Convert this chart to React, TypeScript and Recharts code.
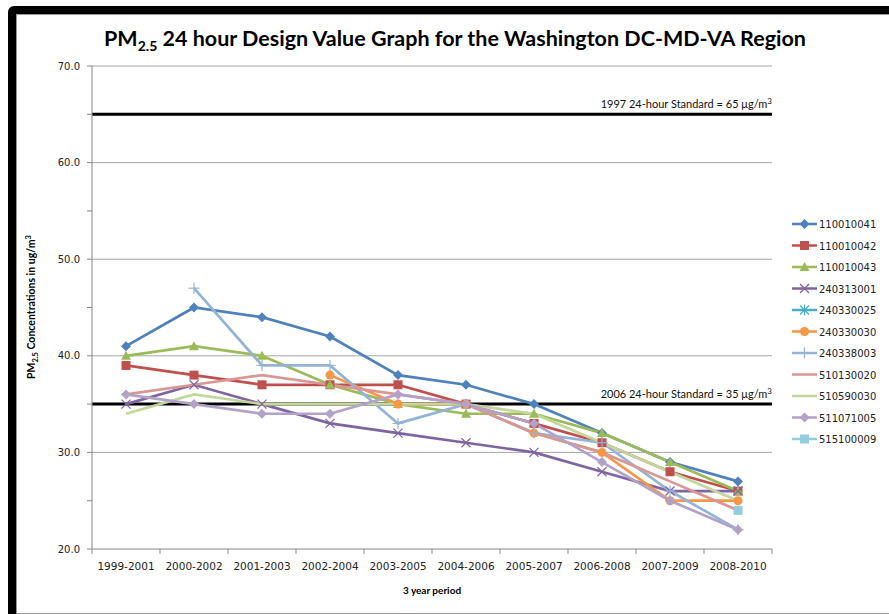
import React from 'react';
import { LineChart, Line, XAxis, YAxis, ReferenceLine } from 'recharts';

const categories = ['1999-2001', '2000-2002', '2001-2003', '2002-2004', '2003-2005', '2004-2006', '2005-2007', '2006-2008', '2007-2009', '2008-2010'];
const seriesNames = ['110010041', '110010042', '110010043', '240313001', '240330025', '240330030', '240338003', '510130020', '510590030', '511071005', '515100009'];
const s110010041 = [41, 45, 44, 42, 38, 37, 35, 32, 29, 27];
const s110010042 = [39, 38, 37, 37, 37, 35, 33, 31, 28, 26];
const s110010043 = [40, 41, 40, 37, 35, 34, 34, 32, 29, 26];
const s240313001 = [35, 37, 35, 33, 32, 31, 30, 28, 26, 26];
const s240330025 = [null, null, null, null, null, null, null, null, null, null];
const s240330030 = [null, null, null, 38, 35, 35, 32, 30, 25, 25];
const s240338003 = [null, 47, 39, 39, 33, 35, 32, 31, 26, 22];
const s510130020 = [36, 37, 38, 37, 36, 35, 32, 30, 27, 24];
const s510590030 = [34, 36, 35, 35, 35, 35, 34, 31, 28, 25];
const s511071005 = [36, 35, 34, 34, 36, 35, 33, 29, 25, 22];
const s515100009 = [null, null, null, null, null, null, null, null, null, 24];
const yTicks = [20, 25, 30, 35, 40, 45, 50, 55, 60, 65, 70];
const gridValues = [30, 40, 50, 60, 70];
const standards = [
  { value: 65, text: '1997 24-hour Standard = 65 \u03BCg/m' },
  { value: 35, text: '2006 24-hour Standard = 35 \u03BCg/m' },
];

const seriesValues = [s110010041, s110010042, s110010043, s240313001, s240330025, s240330030, s240338003, s510130020, s510590030, s511071005, s515100009];
const colors = ['#4F81BD', '#C0504D', '#9BBB59', '#8064A2', '#4BACC6', '#F79646', '#95B3D7', '#DA9694', '#C3D69B', '#B3A2C7', '#93CDDD'];
const shapes = ['diamond', 'square', 'triangle', 'x', 'asterisk', 'circle', 'plus', 'none', 'none', 'diamond', 'square'];

const data = categories.map((c, i) => {
  const row: any = { i, label: c };
  seriesValues.forEach((arr, k) => { row['s' + k] = arr[i]; });
  return row;
});

function Marker({ shape, color, cx, cy }: any) {
  if (cx == null || cy == null || isNaN(cx) || isNaN(cy)) return <g />;
  switch (shape) {
    case 'diamond':
      return <polygon points={`${cx},${cy - 5} ${cx + 5},${cy} ${cx},${cy + 5} ${cx - 5},${cy}`} fill={color} />;
    case 'square':
      return <rect x={cx - 4.5} y={cy - 4.5} width={9} height={9} fill={color} />;
    case 'triangle':
      return <polygon points={`${cx},${cy - 5} ${cx + 5},${cy + 4} ${cx - 5},${cy + 4}`} fill={color} />;
    case 'circle':
      return <circle cx={cx} cy={cy} r={4.5} fill={color} />;
    case 'x':
      return (
        <g stroke={color} strokeWidth={1.2}>
          <line x1={cx - 4.5} y1={cy - 4.5} x2={cx + 4.5} y2={cy + 4.5} />
          <line x1={cx - 4.5} y1={cy + 4.5} x2={cx + 4.5} y2={cy - 4.5} />
        </g>
      );
    case 'asterisk':
      return (
        <g stroke={color} strokeWidth={1.2}>
          <line x1={cx - 4.5} y1={cy - 4.5} x2={cx + 4.5} y2={cy + 4.5} />
          <line x1={cx - 4.5} y1={cy + 4.5} x2={cx + 4.5} y2={cy - 4.5} />
          <line x1={cx} y1={cy - 5.5} x2={cx} y2={cy + 5.5} />
        </g>
      );
    case 'plus':
      return (
        <g stroke={color} strokeWidth={1.2}>
          <line x1={cx - 5.5} y1={cy} x2={cx + 5.5} y2={cy} />
          <line x1={cx} y1={cy - 5.5} x2={cx} y2={cy + 5.5} />
        </g>
      );
    default:
      return <g />;
  }
}

const xTicks: number[] = [];
for (let k = -0.5; k <= 9.5; k += 0.5) xTicks.push(k);

function XTick(props: any) {
  const { x, y, payload } = props;
  const v = payload.value;
  if (Math.abs(v - Math.round(v)) > 0.01) {
    return <line x1={x} y1={y} x2={x} y2={y + 5} stroke="#868686" strokeWidth={1} />;
  }
  return (
    <text x={x} y={y + 21} textAnchor="middle" fontSize={10.5} fontFamily="DejaVu Sans" fill="#222">
      {categories[Math.round(v)]}
    </text>
  );
}

function StdLabel(text: string) {
  return (props: any) => {
    const vb = props.viewBox;
    return (
      <text x={vb.x + vb.width} y={vb.y - 6} textAnchor="end" fontSize={11} fontFamily="Lato" fill="#111">
        {text}
        <tspan dy={-4} fontSize={8}>3</tspan>
      </text>
    );
  };
}

function YTitle(props: any) {
  const vb = props.viewBox;
  const cx = vb.x + 3;
  const cy = 307;
  return (
    <text transform={`translate(${cx},${cy}) rotate(-90)`} textAnchor="middle" fontSize={10.5} fontWeight="bold" fontFamily="Lato" fill="#000">
      PM<tspan fontSize={7.5} dy={3}>2.5</tspan>
      <tspan dy={-3}> Concentrations in ug/m</tspan>
      <tspan fontSize={7.5} dy={-4}>3</tspan>
    </text>
  );
}

function XTitle(props: any) {
  const vb = props.viewBox;
  return (
    <text x={vb.x + vb.width / 2} y={vb.y + 45} textAnchor="middle" fontSize={10} fontWeight="bold" fontFamily="Lato" fill="#000">
      3 year period
    </text>
  );
}

function Legend() {
  return (
    <svg width={109} height={240} style={{ position: 'absolute', left: 780, top: 210 }}>
      {seriesNames.map((n, k) => {
        const y = 14 + k * 21.5;
        return (
          <g key={n}>
            <line x1={12} y1={y} x2={37} y2={y} stroke={colors[k]} strokeWidth={2.5} />
            <Marker shape={shapes[k]} color={colors[k]} cx={24.5} cy={y} />
            <text x={39} y={y + 4} fontSize={10} fontFamily="DejaVu Sans" fill="#222">{n}</text>
          </g>
        );
      })}
    </svg>
  );
}

export default function App() {
  return (
    <div style={{ position: 'absolute', left: 0, top: 0, width: 889, height: 614, overflow: 'hidden', background: '#fff' }}>
      <div style={{ position: 'absolute', left: 8, top: 6, width: 900, height: 620, background: '#000', borderRadius: 6 }} />
      <div style={{ position: 'absolute', left: 16, top: 14, width: 900, height: 598, background: '#fff', border: '1px solid #999' }} />
      <div style={{ position: 'absolute', left: 0, top: 25, width: 910, textAlign: 'center', fontFamily: 'Lato', fontWeight: 'bold', fontSize: 21.5, color: '#000', whiteSpace: 'nowrap' }}>
        PM<sub style={{ fontSize: 14 }}>2.5</sub> 24 hour Design Value Graph for the Washington DC-MD-VA Region
      </div>
      <div style={{ position: 'absolute', left: 0, top: 0 }}>
        <LineChart width={889} height={614} data={data} margin={{ top: 66, right: 117, left: 32, bottom: 0 }}>
          <XAxis dataKey="i" type="number" domain={[-0.5, 9.5]} ticks={xTicks} interval={0} tick={<XTick />} tickLine={false} tickSize={0} tickMargin={0} height={65} stroke="#868686" label={<XTitle />} />
          <YAxis type="number" domain={[20, 70]} ticks={yTicks} interval={0} width={60} tickSize={5} tickMargin={7} stroke="#868686"
            tick={{ fontSize: 10, fontFamily: 'DejaVu Sans', fill: '#222' }}
            tickFormatter={(v: number) => (v % 10 === 0 ? v.toFixed(1) : '')} label={<YTitle />} />
          {gridValues.map((g) => (
            <ReferenceLine key={g} y={g} stroke="#A6A6A6" strokeWidth={1} />
          ))}
          {standards.map((s) => (
            <ReferenceLine key={s.value} y={s.value} stroke="#000" strokeWidth={3} label={StdLabel(s.text)} />
          ))}
          {seriesNames.map((n, k) => (
            <Line key={n} name={n} dataKey={'s' + k} stroke={colors[k]} strokeWidth={2.7} isAnimationActive={false}
              dot={(p: any) => <Marker key={n + p.index} shape={shapes[k]} color={colors[k]} cx={p.cx} cy={p.cy} />}
              activeDot={false} />
          ))}
        </LineChart>
      </div>
      <Legend />
    </div>
  );
}
